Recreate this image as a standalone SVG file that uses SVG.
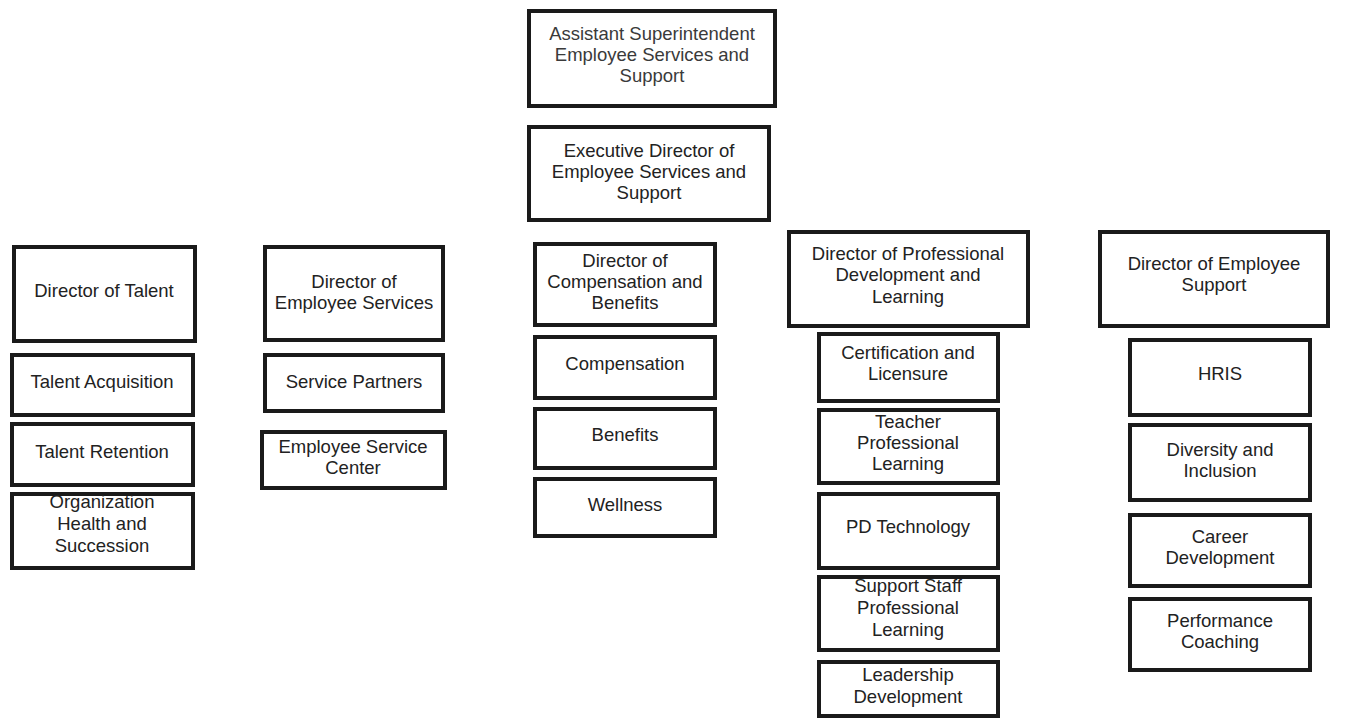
<svg xmlns="http://www.w3.org/2000/svg" width="1346" height="721" viewBox="0 0 1346 721">
<style>
rect{fill:#fff;stroke:#1a1a1a;stroke-width:4}
text{font-family:"Liberation Sans",Arial,sans-serif;font-size:18.5px;fill:#222;text-anchor:middle}
.g{fill:#3a3a3a}
</style>
<rect x="0" y="0" width="1346" height="721" style="stroke:none"/>
<g id="connectors"/>
<g id="asst"><rect x="529" y="11" width="246" height="95"/><text class="g" x="652" y="40">Assistant Superintendent</text><text class="g" x="652" y="61">Employee Services and</text><text class="g" x="652" y="82">Support</text></g>
<g id="exec"><rect x="529" y="127" width="240" height="93"/><text x="649" y="157">Executive Director of</text><text x="649" y="178">Employee Services and</text><text x="649" y="199">Support</text></g>
<g id="dir-talent"><rect x="14" y="247" width="181" height="94"/><text x="104" y="297">Director of Talent</text></g>
<g id="talent-acq"><rect x="12" y="355" width="181" height="60"/><text x="102" y="388">Talent Acquisition</text></g>
<g id="talent-ret"><rect x="12" y="424" width="181" height="61"/><text x="102" y="458">Talent Retention</text></g>
<g id="org-health"><rect x="12" y="494" width="181" height="74"/><text x="102" y="508">Organization</text><text x="102" y="530">Health and</text><text x="102" y="552">Succession</text></g>
<g id="dir-empsvc"><rect x="265" y="247" width="178" height="93"/><text x="354" y="288">Director of</text><text x="354" y="309">Employee Services</text></g>
<g id="svc-partners"><rect x="265" y="355" width="178" height="56"/><text x="354" y="388">Service Partners</text></g>
<g id="emp-svc-center"><rect x="262" y="432" width="183" height="56"/><text x="353" y="453">Employee Service</text><text x="353" y="474">Center</text></g>
<g id="dir-comp"><rect x="535" y="244" width="180" height="81"/><text x="625" y="267">Director of</text><text x="625" y="288">Compensation and</text><text x="625" y="309">Benefits</text></g>
<g id="compensation"><rect x="535" y="337" width="180" height="61"/><text x="625" y="370">Compensation</text></g>
<g id="benefits"><rect x="535" y="409" width="180" height="59"/><text x="625" y="441">Benefits</text></g>
<g id="wellness"><rect x="535" y="479" width="180" height="57"/><text x="625" y="511">Wellness</text></g>
<g id="dir-pd"><rect x="789" y="232" width="239" height="94"/><text x="908" y="260">Director of Professional</text><text x="908" y="281">Development and</text><text x="908" y="303">Learning</text></g>
<g id="cert"><rect x="819" y="334" width="179" height="67"/><text x="908" y="359">Certification and</text><text x="908" y="380">Licensure</text></g>
<g id="teacher-pl"><rect x="819" y="410" width="179" height="73"/><text x="908" y="428">Teacher</text><text x="908" y="449">Professional</text><text x="908" y="470">Learning</text></g>
<g id="pd-tech"><rect x="819" y="494" width="179" height="74"/><text x="908" y="533">PD Technology</text></g>
<g id="support-staff"><rect x="819" y="577" width="179" height="73"/><text x="908" y="592">Support Staff</text><text x="908" y="614">Professional</text><text x="908" y="636">Learning</text></g>
<g id="leadership"><rect x="819" y="662" width="179" height="54"/><text x="908" y="681">Leadership</text><text x="908" y="703">Development</text></g>
<g id="dir-empsupport"><rect x="1100" y="232" width="228" height="94"/><text x="1214" y="270">Director of Employee</text><text x="1214" y="291">Support</text></g>
<g id="hris"><rect x="1130" y="340" width="180" height="75"/><text x="1220" y="380">HRIS</text></g>
<g id="diversity"><rect x="1130" y="425" width="180" height="75"/><text x="1220" y="456">Diversity and</text><text x="1220" y="477">Inclusion</text></g>
<g id="career"><rect x="1130" y="515" width="180" height="71"/><text x="1220" y="543">Career</text><text x="1220" y="564">Development</text></g>
<g id="performance"><rect x="1130" y="599" width="180" height="71"/><text x="1220" y="627">Performance</text><text x="1220" y="648">Coaching</text></g>
</svg>
